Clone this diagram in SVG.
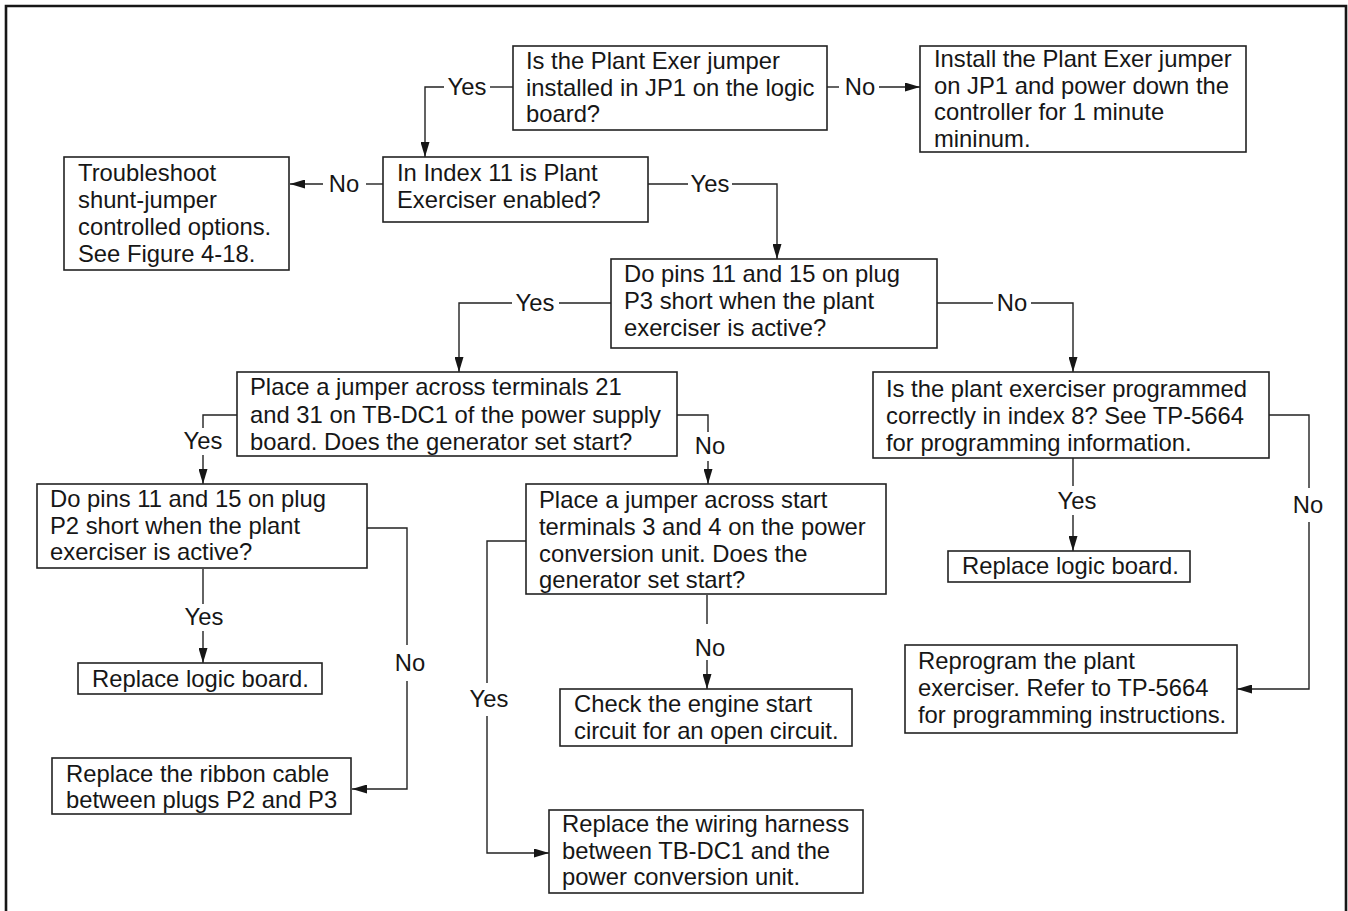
<svg xmlns="http://www.w3.org/2000/svg" width="1348" height="911" viewBox="0 0 1348 911">
<style>
text{font-family:"Liberation Sans",Arial,sans-serif;font-size:23.8px;fill:#161616}
.box{fill:#fff;stroke:#222;stroke-width:1.6}
.ln{fill:none;stroke:#222;stroke-width:1.4}
.lbl{text-anchor:middle}
</style>
<defs>
<marker id="ah" viewBox="0 0 15 9" refX="15" refY="4.5" markerWidth="15" markerHeight="9" markerUnits="userSpaceOnUse" orient="auto">
<path d="M0,0 L15,4.5 L0,9 Z" fill="#161616"/>
</marker>
</defs>
<rect width="1348" height="911" fill="#fff"/>
<path d="M6,915 V6 H1346 V915" fill="none" stroke="#161616" stroke-width="2.6"/>

<g id="connectors">
<path class="ln" d="M513,87 H490"/><path class="ln" d="M444,87 H425 V157" marker-end="url(#ah)"/>
<text class="lbl" x="467" y="95">Yes</text>
<path class="ln" d="M827,87 H839"/><path class="ln" d="M879,87 H920" marker-end="url(#ah)"/>
<text class="lbl" x="860" y="95">No</text>
<path class="ln" d="M383,184 H366"/><path class="ln" d="M323,184 H290" marker-end="url(#ah)"/>
<text class="lbl" x="344" y="192">No</text>
<path class="ln" d="M648,184 H688"/><path class="ln" d="M732,184 H777 V259" marker-end="url(#ah)"/>
<text class="lbl" x="710" y="192">Yes</text>
<path class="ln" d="M611,303 H559"/><path class="ln" d="M512,303 H459 V372" marker-end="url(#ah)"/>
<text class="lbl" x="535" y="311">Yes</text>
<path class="ln" d="M937,303 H993"/><path class="ln" d="M1031,303 H1073 V372" marker-end="url(#ah)"/>
<text class="lbl" x="1012" y="311">No</text>
<path class="ln" d="M237,415 H203 V428"/><path class="ln" d="M203,455 V484" marker-end="url(#ah)"/>
<text class="lbl" x="203" y="449">Yes</text>
<path class="ln" d="M677,415 H708 V432"/><path class="ln" d="M708,461 V484" marker-end="url(#ah)"/>
<text class="lbl" x="710" y="454">No</text>
<path class="ln" d="M203,569 V604"/><path class="ln" d="M203,631 V663" marker-end="url(#ah)"/>
<text class="lbl" x="204" y="625">Yes</text>
<path class="ln" d="M367,528 H407 V645"/><path class="ln" d="M407,681 V789 H352" marker-end="url(#ah)"/>
<text class="lbl" x="410" y="671">No</text>
<path class="ln" d="M526,541 H487 V683"/><path class="ln" d="M487,716 V853 H549" marker-end="url(#ah)"/>
<text class="lbl" x="489" y="707">Yes</text>
<path class="ln" d="M707,595 V624"/><path class="ln" d="M707,660 V689" marker-end="url(#ah)"/>
<text class="lbl" x="710" y="656">No</text>
<path class="ln" d="M1073,458 V486"/><path class="ln" d="M1073,515 V551" marker-end="url(#ah)"/>
<text class="lbl" x="1077" y="509">Yes</text>
<path class="ln" d="M1269,415 H1309 V488"/><path class="ln" d="M1309,522 V689 H1237" marker-end="url(#ah)"/>
<text class="lbl" x="1308" y="513">No</text>
</g>

<g id="nodeA"><rect class="box" x="513" y="46" width="314" height="84"/>
<text x="526" y="69">Is the Plant Exer jumper</text><text x="526" y="95.5">installed in JP1 on the logic</text><text x="526" y="122">board?</text></g>

<g id="nodeB"><rect class="box" x="920" y="46" width="326" height="106"/>
<text x="934" y="67">Install the Plant Exer jumper</text><text x="934" y="93.5">on JP1 and power down the</text><text x="934" y="120">controller for 1 minute</text><text x="934" y="146.5">mininum.</text></g>

<g id="nodeC"><rect class="box" x="383" y="157" width="265" height="65"/>
<text x="397" y="181">In Index 11 is Plant</text><text x="397" y="208">Exerciser enabled?</text></g>

<g id="nodeD"><rect class="box" x="64" y="157" width="225" height="113"/>
<text x="78" y="181">Troubleshoot</text><text x="78" y="208">shunt-jumper</text><text x="78" y="235">controlled options.</text><text x="78" y="262">See Figure 4-18.</text></g>

<g id="nodeE"><rect class="box" x="611" y="259" width="326" height="89"/>
<text x="624" y="282">Do pins 11 and 15 on plug</text><text x="624" y="309">P3 short when the plant</text><text x="624" y="336">exerciser is active?</text></g>

<g id="nodeF"><rect class="box" x="237" y="372" width="440" height="84"/>
<text x="250" y="395">Place a jumper across terminals 21</text><text x="250" y="422.5">and 31 on TB-DC1 of the power supply</text><text x="250" y="450">board. Does the generator set start?</text></g>

<g id="nodeG"><rect class="box" x="873" y="372" width="396" height="86"/>
<text x="886" y="397">Is the plant exerciser programmed</text><text x="886" y="424">correctly in index 8? See TP-5664</text><text x="886" y="451">for programming information.</text></g>

<g id="nodeH"><rect class="box" x="37" y="484" width="330" height="84"/>
<text x="50" y="507">Do pins 11 and 15 on plug</text><text x="50" y="533.5">P2 short when the plant</text><text x="50" y="560">exerciser is active?</text></g>

<g id="nodeI"><rect class="box" x="526" y="484" width="360" height="110"/>
<text x="539" y="508">Place a jumper across start</text><text x="539" y="535">terminals 3 and 4 on the power</text><text x="539" y="561.5">conversion unit. Does the</text><text x="539" y="588">generator set start?</text></g>

<g id="nodeJ"><rect class="box" x="78" y="663" width="244" height="31"/>
<text x="92" y="687">Replace logic board.</text></g>

<g id="nodeK"><rect class="box" x="52" y="758" width="299" height="56"/>
<text x="66" y="782">Replace the ribbon cable</text><text x="66" y="808">between plugs P2 and P3</text></g>

<g id="nodeL"><rect class="box" x="560" y="689" width="292" height="57"/>
<text x="574" y="712">Check the engine start</text><text x="574" y="738.5">circuit for an open circuit.</text></g>

<g id="nodeM"><rect class="box" x="549" y="810" width="314" height="83"/>
<text x="562" y="832">Replace the wiring harness</text><text x="562" y="858.5">between TB-DC1 and the</text><text x="562" y="885">power conversion unit.</text></g>

<g id="nodeN"><rect class="box" x="948" y="551" width="242" height="31"/>
<text x="962" y="574">Replace logic board.</text></g>

<g id="nodeO"><rect class="box" x="905" y="645" width="332" height="88"/>
<text x="918" y="669">Reprogram the plant</text><text x="918" y="696">exerciser. Refer to TP-5664</text><text x="918" y="723">for programming instructions.</text></g>
</svg>
